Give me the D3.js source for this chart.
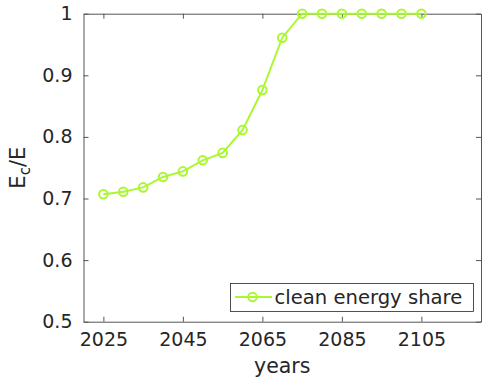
<!DOCTYPE html>
<html><head><meta charset="utf-8">
<script src="https://cdn.jsdelivr.net/npm/d3@7"></script>
<style>body{margin:0;background:#fff}svg{display:block}text{font-family:"DejaVu Sans",sans-serif;fill:#262626}</style>
</head><body>
<script>
const years = [2025,2030,2035,2040,2045,2050,2055,2060,2065,2070,2075,2080,2085,2090,2095,2100,2105];
const share = [0.707,0.711,0.718,0.735,0.744,0.762,0.774,0.811,0.876,0.961,1,1,1,1,1,1,1];
const xTicks = [2025,2045,2065,2085,2105];
const yTicks = [0.5,0.6,0.7,0.8,0.9,1];
const seriesName = "clean energy share";

const W=482,H=383;
const m={l:83.5,r:481,t:13.7,b:321.7};
const svg=d3.select("body").append("svg").attr("width",W).attr("height",H);
const x=d3.scaleLinear().domain([2020,2120]).range([m.l,m.r]);
const y=d3.scaleLinear().domain([0.5,1]).range([m.b,m.t]);
const axCol="#555";
const tl=5;

const gx=svg.append("g").attr("transform",`translate(0,${m.b})`)
  .call(d3.axisBottom(x).tickValues(xTicks).tickFormat(d3.format("d")).tickSizeInner(-tl).tickSizeOuter(0).tickPadding(11));
const gxt=svg.append("g").attr("transform",`translate(0,${m.t})`)
  .call(d3.axisTop(x).tickValues(xTicks).tickFormat("").tickSizeInner(-tl).tickSizeOuter(0));
const gy=svg.append("g").attr("transform",`translate(${m.l},0)`)
  .call(d3.axisLeft(y).tickValues(yTicks).tickFormat(d=>d===1?"1":d3.format(".1f")(d)).tickSizeInner(-tl).tickSizeOuter(0).tickPadding(11));
const gyr=svg.append("g").attr("transform",`translate(${m.r},0)`)
  .call(d3.axisRight(y).tickValues(yTicks).tickFormat("").tickSizeInner(-tl).tickSizeOuter(0));
[gx,gxt,gy,gyr].forEach(g=>{g.select(".domain").attr("stroke",axCol).attr("stroke-width",1);
  g.selectAll(".tick line").attr("stroke",axCol);
  g.selectAll("text").style("font-size","19px").attr("fill","#262626");});
gx.selectAll("text").attr("dy","0.71em");

const col="#aaf732";
const line=d3.line().x((d,i)=>x(years[i])).y(d=>y(d));
svg.append("path").datum(share).attr("d",line).attr("fill","none").attr("stroke",col).attr("stroke-width",2);
svg.selectAll("circle.pt").data(share).enter().append("circle").attr("class","pt")
  .attr("cx",(d,i)=>x(years[i])).attr("cy",d=>y(d)).attr("r",4.3)
  .attr("fill","none").attr("stroke",col).attr("stroke-width",2);

// legend
const lg=svg.append("g");
lg.append("rect").attr("x",230.5).attr("y",283.5).attr("width",243).attr("height",28)
  .attr("fill","#fff").attr("stroke","#262626").attr("stroke-width",0.8);
lg.append("line").attr("x1",235).attr("x2",272).attr("y1",297).attr("y2",297).attr("stroke",col).attr("stroke-width",2);
lg.append("circle").attr("cx",252.5).attr("cy",297).attr("r",4.3).attr("fill","none").attr("stroke",col).attr("stroke-width",2);
lg.append("text").attr("x",274.5).attr("y",297.5).attr("dy","0.35em").style("font-size","19.6px").text(seriesName);

svg.append("text").attr("x",(m.l+m.r)/2).attr("y",373).attr("text-anchor","middle").style("font-size","20.5px").text("years");
const yl=svg.append("text").attr("transform",`translate(25,${(m.t+m.b)/2}) rotate(-90)`).attr("text-anchor","middle").style("font-size","21px");
yl.append("tspan").text("E");
yl.append("tspan").attr("dy","5").style("font-size","15px").text("c");
yl.append("tspan").attr("dy","-5").text("/E");
</script>
</body></html>
